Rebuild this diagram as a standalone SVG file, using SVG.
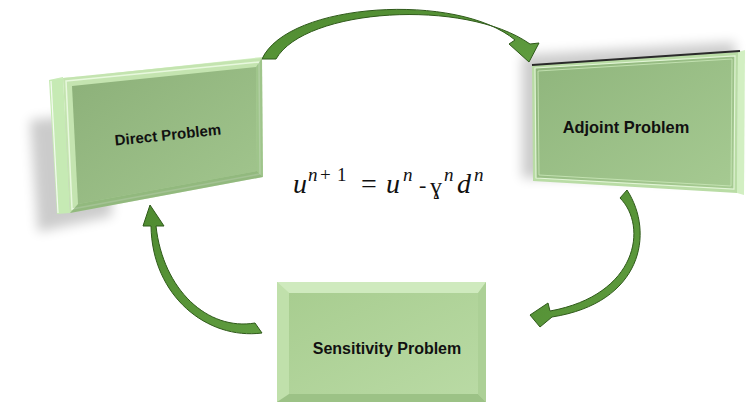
<svg xmlns="http://www.w3.org/2000/svg" width="748" height="409" viewBox="0 0 748 409">
<style>
.lbl{font-family:"Liberation Sans",Arial,sans-serif;font-weight:bold;fill:#111;}
.math{font-family:"Liberation Serif","DejaVu Serif",serif;fill:#111;}
.it{font-style:italic;}
.arrow{fill:url(#arrowGrad);stroke:#2f5a1a;stroke-width:1;stroke-linejoin:round;}
</style>
<defs>
<filter id="blur" x="-30%" y="-30%" width="160%" height="160%"><feGaussianBlur stdDeviation="6"/></filter>
<linearGradient id="arrowGrad" x1="0" y1="0" x2="1" y2="1">
<stop offset="0" stop-color="#4f8b30"/><stop offset="1" stop-color="#5f9c3f"/>
</linearGradient>
<linearGradient id="frontDirect" x1="0" y1="0" x2="1" y2="1">
<stop offset="0" stop-color="#8cb079"/><stop offset="1" stop-color="#a2c68e"/>
</linearGradient>
<linearGradient id="frontAdj" x1="0" y1="0" x2="1" y2="1">
<stop offset="0" stop-color="#8fb57c"/><stop offset="1" stop-color="#a6ca92"/>
</linearGradient>
<linearGradient id="frontSens" x1="0" y1="0" x2="1" y2="1">
<stop offset="0" stop-color="#a8cd90"/><stop offset="1" stop-color="#b9daa4"/>
</linearGradient>
</defs>

<!-- shadows -->
<polygon points="30,120 110,112 112,216 38,232" fill="#000" opacity="0.2" filter="url(#blur)"/>
<polygon points="522,55 735,42 735,180 522,178" fill="#000" opacity="0.2" filter="url(#blur)"/>

<g id="connectors">
<path class="arrow" d="M262,59 C288,2 458,-8 515,40 L509,44 L529,62 L539,43 L530,44 C465,-2 305,8 276,59 Z"/>
<path class="arrow" d="M620,198 C648,226 638,295 550,311 L548,303 L530,315 L540,327 L552,317 C642,303 655,233 627,190 Z"/>
<path class="arrow" d="M255,323 C208,331 163,290 156,226 L164,226 L150,205 L143,226 L151,226 C152,296 207,340 262,333 Z"/>
</g>

<g id="node-direct">
<polygon points="49,80 63,77 70,213 57,214" fill="#c6eab4"/>
<line x1="51" y1="81" x2="58" y2="213" stroke="#ffffff" stroke-width="1.2" opacity="0.8"/>
<polygon points="49,80 262,57 262,60 63,78" fill="#d4f0c4"/>
<polygon points="63,78 262,58 263,177 70,213" fill="#c4e4b0"/>
<polygon points="66,81 259,62 260,174 72,209" fill="none" stroke="#e8f8de" stroke-width="1.5"/>
<polygon points="72,86 256,67 257,171 78,204" fill="url(#frontDirect)"/>
<polygon points="78,204 257,171 263,177 70,213" fill="#6a9656" opacity="0.55"/>
<polygon points="256,67 262,58 263,177 257,171" fill="#7aa666" opacity="0.5"/>
<text class="lbl" x="168" y="140" font-size="15" text-anchor="middle" transform="rotate(-6 168 136)">Direct Problem</text>
</g>

<g id="node-adjoint">
<polygon points="738,52 745,50 744,195 737,193" fill="#d2efc2"/>
<polygon points="532,65 738,52 737,193 533,181" fill="#b9dca5"/>
<polygon points="535,68 735,56 734,189 536,178" fill="url(#frontAdj)" stroke="#e2f5d6" stroke-width="1.2"/>
<polygon points="538,71 732,59 731,186 539,175" fill="none" stroke="#cbe8ba" stroke-width="0.8"/>
<line x1="532" y1="65" x2="740" y2="51" stroke="#2a2a2a" stroke-width="2"/>
<text class="lbl" x="626" y="133" font-size="16.4" text-anchor="middle">Adjoint Problem</text>
</g>

<g id="node-sensitivity">
<rect x="277" y="282" width="209" height="120" fill="#c4e3b0"/>
<polygon points="277,282 486,282 478,293 289,293" fill="#cfeabe"/>
<polygon points="277,282 289,293 289,394 277,402" fill="#c0e0ab"/>
<polygon points="486,282 486,402 478,394 478,293" fill="#acd096"/>
<polygon points="277,402 289,394 478,394 486,402" fill="#9cc286"/>
<rect x="289" y="293" width="189" height="101" fill="url(#frontSens)"/>
<text class="lbl" x="387" y="354" font-size="16" text-anchor="middle">Sensitivity Problem</text>
</g>

<g id="formula">
<text class="math it" x="293" y="193" font-size="28">u</text>
<text class="math" y="181" font-size="19"><tspan class="it" x="308">n</tspan><tspan x="320">+</tspan><tspan x="337">1</tspan></text>
<text class="math" x="361" y="193" font-size="28">=</text>
<text class="math it" x="386" y="193" font-size="28">u</text>
<text class="math it" x="403" y="181" font-size="19">n</text>
<text class="math" x="419" y="192" font-size="22">-</text>
<text class="math" x="430" y="194" font-size="24">ɣ</text>
<text class="math it" x="444" y="181" font-size="19">n</text>
<text class="math it" x="457" y="193" font-size="28">d</text>
<text class="math it" x="474" y="181" font-size="19">n</text>
</g>
</svg>
